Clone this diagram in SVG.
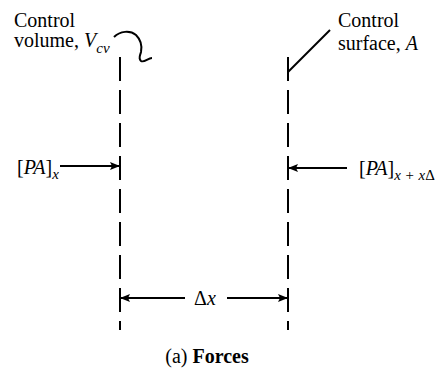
<svg xmlns="http://www.w3.org/2000/svg" width="443" height="375" viewBox="0 0 443 375">
<defs>
<style>
.cs{stroke:#000;stroke-width:2;stroke-dasharray:24 9;fill:none}
.ln{stroke:#000;stroke-width:2;fill:none}
</style>
<marker id="ah" viewBox="0 0 10 8" refX="10" refY="4" markerWidth="10" markerHeight="8" markerUnits="userSpaceOnUse" orient="auto-start-reverse">
<path d="M0,0 L10,4 L0,8 L2,4 Z" fill="#000"/>
</marker>
</defs>
<rect width="443" height="375" fill="#fff"/>
<g id="left-surface">
<line class="cs" x1="120" y1="57" x2="120" y2="330"/>
</g>
<g id="right-surface">
<line class="cs" x1="288" y1="57" x2="288" y2="330"/>
</g>
<g font-family="'Liberation Serif', 'Times New Roman', serif" font-size="20" fill="#000">
<g id="label-cv">
<text x="14" y="27">Control</text>
<text x="14" y="47">volume, <tspan font-style="italic">V</tspan><tspan font-style="italic" font-size="15" dy="6">cv</tspan></text>
</g>
<g id="label-cs">
<text x="338" y="27">Control</text>
<text x="338" y="50">surface, <tspan font-style="italic">A</tspan></text>
</g>
<g id="label-left-force">
<text x="17" y="174">[<tspan font-style="italic">PA</tspan>]<tspan font-style="italic" font-size="15" dy="5">x</tspan></text>
</g>
<g id="label-right-force">
<text x="359" y="175">[<tspan font-style="italic">PA</tspan>]<tspan font-style="italic" font-size="15" dy="5">x + x</tspan><tspan font-size="15">Δ</tspan></text>
</g>
<g id="label-dx">
<text x="205" y="305" text-anchor="middle">Δ<tspan font-style="italic">x</tspan></text>
</g>
<g id="caption">
<text x="207" y="363" text-anchor="middle">(a) <tspan font-weight="bold">Forces</tspan></text>
</g>
</g>
<g id="connectors">
<path class="ln" d="M114,37 C120,31 130,30 136,35 C141,40 142,47 141,52 C140,56 138,58 141,61 C144,63 148,58 152,58" stroke-width="1.8"/>
<line class="ln" x1="330" y1="30" x2="288" y2="72"/>
<line class="ln" x1="288" y1="57" x2="288" y2="80"/>
<line class="ln" x1="60" y1="166" x2="120" y2="166" marker-end="url(#ah)"/>
<line class="ln" x1="347" y1="168" x2="288" y2="168" marker-end="url(#ah)"/>
<line class="ln" x1="185" y1="298" x2="120" y2="298" marker-end="url(#ah)"/>
<line class="ln" x1="227" y1="298" x2="288" y2="298" marker-end="url(#ah)"/>
</g>
</svg>
